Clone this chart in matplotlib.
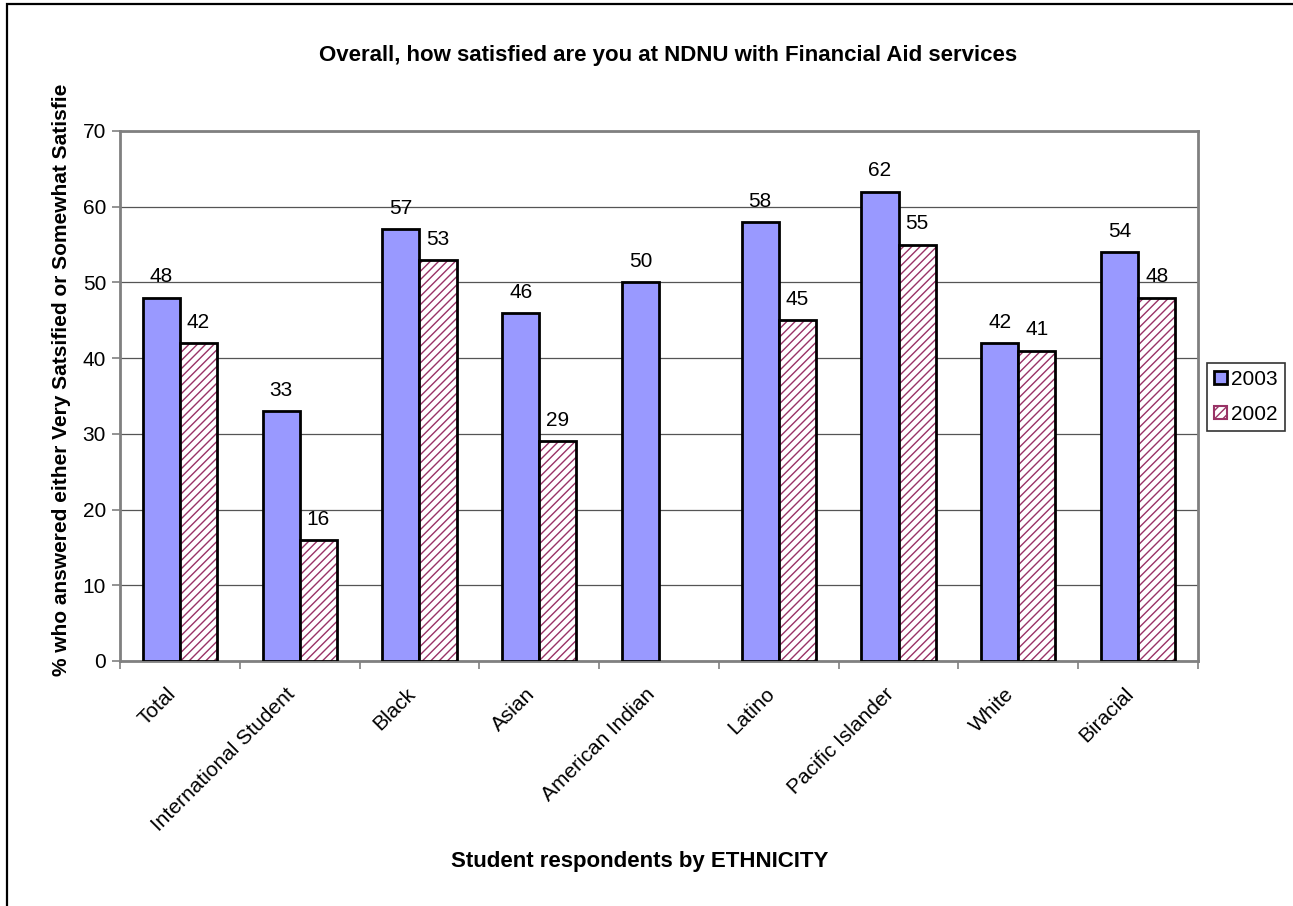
import numpy as np
import matplotlib
matplotlib.use("Agg")
import matplotlib.pyplot as plt
from matplotlib.patches import Rectangle
from matplotlib.transforms import Bbox, TransformedBbox, ScaledTranslation

plt.rcParams['font.family'] = ['Liberation Sans', 'DejaVu Sans']
plt.rcParams['hatch.linewidth'] = 1.0

categories = ["Total", "International Student", "Black", "Asian", "American Indian",
              "Latino", "Pacific Islander", "White", "Biracial"]
values_2003 = [48, 33, 57, 46, 50, 58, 62, 42, 54]
values_2002 = [42, 16, 53, 29, np.nan, 45, 55, 41, 48]
series_labels = ["2003", "2002"]
yticks = [0, 10, 20, 30, 40, 50, 60, 70]

W, H = 1293, 906
FS = 15
fig = plt.figure(figsize=(W / 100, H / 100), dpi=100)
ax = fig.add_axes([120 / W, 1 - 661 / H, (1198 - 120) / W, (661 - 131) / H])

x = np.arange(len(categories))
bw = 0.31
c03 = "#9999FF"
hatch_col = "#993366"
HATCH = "////"

b03 = ax.bar(x - bw / 2, values_2003, bw, color=c03, edgecolor="black", linewidth=2, zorder=3)
# hatched fill for 2002, then a black outline on top
v02 = np.array(values_2002, dtype=float)
ax.bar(x + bw / 2, v02, bw, color="white", edgecolor=hatch_col, hatch=HATCH,
       linewidth=0, zorder=3)
b02 = ax.bar(x + bw / 2, v02, bw, color="none", edgecolor="black", linewidth=2, zorder=4)

for xi, v in zip(x - bw / 2, values_2003):
    ax.annotate(f"{v:g}", (xi, v), xytext=(0, 8), textcoords="offset points",
                ha="center", va="bottom", fontsize=FS)
for xi, v in zip(x + bw / 2, v02):
    if not np.isnan(v):
        ax.annotate(f"{v:g}", (xi, v), xytext=(0, 8), textcoords="offset points",
                    ha="center", va="bottom", fontsize=FS)

ax.set_ylim(0, 70)
ax.set_xlim(-0.5, len(categories) - 0.5)
ax.set_yticks(yticks)
ax.tick_params(axis="y", labelsize=FS, length=6, width=1.2, color="#808080", pad=4)
ax.yaxis.grid(True, color="#555555", linewidth=0.9, zorder=0)
ax.set_axisbelow(True)

ax.set_xticks(x)
ax.set_xticklabels(categories, rotation=45, ha="right", rotation_mode="anchor", fontsize=FS)
ax.tick_params(axis="x", length=0, pad=8)
shift = ScaledTranslation(-14 / 100, -12 / 100, fig.dpi_scale_trans)
for lbl in ax.get_xticklabels():
    lbl.set_transform(lbl.get_transform() + shift)
ax.set_xticks(np.arange(len(categories) + 1) - 0.5, minor=True)
ax.tick_params(axis="x", which="minor", length=6, width=1.2, color="#808080")

for s in ax.spines.values():
    s.set_color("#808080")
    s.set_linewidth(2)

fig.text(668 / W, 1 - 55 / H, "Overall, how satisfied are you at NDNU with Financial Aid services",
         ha="center", va="center", fontsize=16, fontweight="bold")
fig.text(640 / W, 1 - 862 / H, "Student respondents by ETHNICITY",
         ha="center", va="center", fontsize=16, fontweight="bold")
ylab = fig.text(62 / W, 1 - 676 / H,
                "% who answered either Very Satsified or Somewhat Satisfied",
                rotation=90, ha="center", va="bottom", fontsize=FS, fontweight="bold")
ylab.set_clip_box(TransformedBbox(Bbox([[0, 0], [1, 1 - 85 / H]]), fig.transFigure))
ylab.set_clip_on(True)

leg = ax.legend([b03, b02], series_labels, loc="center left",
                bbox_to_anchor=(1207 / W, 1 - 397 / H), bbox_transform=fig.transFigure,
                fontsize=FS, frameon=True, fancybox=False, edgecolor="black",
                handlelength=0.6, handleheight=0.6, handletextpad=0.2,
                borderpad=0.35, labelspacing=0.75, borderaxespad=0)
leg.get_frame().set_linewidth(1.2)
# legend handles carry the hatch for the 2002 series
h2 = leg.legend_handles[1]
h2.set_hatch(HATCH)
h2.set_edgecolor(hatch_col)
h2.set_facecolor("white")
h2.set_linewidth(1.5)

# outer chart border
fig.patches.append(Rectangle((7 / W, -0.1), 2.0, 1.1 - 4 / H, transform=fig.transFigure,
                             fill=False, edgecolor="black", linewidth=1.6))

fig.savefig("out.png", dpi=100)
